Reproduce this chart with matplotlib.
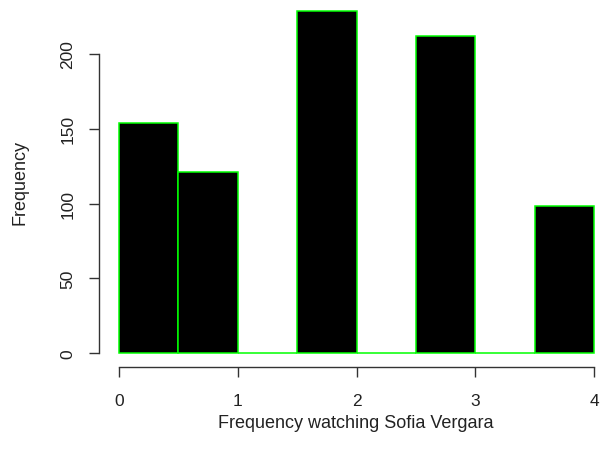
import matplotlib
matplotlib.use('Agg')
import matplotlib.pyplot as plt
import numpy as np

plt.rcParams['font.family'] = ['Liberation Sans', 'DejaVu Sans']

# histogram bins and counts
bin_edges = [0, 0.5, 1, 1.5, 2, 2.5, 3, 3.5, 4]
counts = [154, 121, 0, 229, 0, 212, 0, 98]
x_ticks = [0, 1, 2, 3, 4]
y_ticks = [0, 50, 100, 150, 200]

W, H = 602, 464
fig = plt.figure(figsize=(W / 100, H / 100), dpi=100)

# plot region in pixels (R style, right side cropped)
left, right, top, bottom = 99, 602, 0, 368
ax = fig.add_axes([left / W, 1 - bottom / H, (right - left) / W, (bottom - top) / H])

px_x = (594 - 119) / 4.0
px_y = (354 - 55) / 200.0
ax.set_xlim(-(119 - left) / px_x, 4 + (right - 594) / px_x)
ax.set_ylim(-(bottom - 354) / px_y, (354 - top) / px_y)

lefts = np.array(bin_edges[:-1])
widths = np.diff(bin_edges)
ax.bar(lefts, counts, width=widths, align='edge', color='black',
       edgecolor='#00ff00', linewidth=1.1)

for s in ['top', 'right']:
    ax.spines[s].set_visible(False)
ax.spines['left'].set_bounds(0, 200)
ax.spines['bottom'].set_bounds(0, 4)
for s in ['left', 'bottom']:
    ax.spines[s].set_color('#333333')
    ax.spines[s].set_linewidth(1.0)

ax.set_xticks(x_ticks)
ax.set_yticks(y_ticks)
ax.tick_params(length=7, width=1.0, color='#333333', labelsize=12.5, labelcolor='#222222')
ax.tick_params(axis='x', pad=12)
ax.tick_params(axis='y', pad=10)
plt.setp(ax.get_yticklabels(), rotation=90, va='center')

fig.text(356 / W, 1 - 424 / H, 'Frequency watching Sofia Vergara', ha='center', va='center',
         fontsize=13, color='#222222')
fig.text(20 / W, 1 - 183 / H, 'Frequency', ha='center', va='center', rotation=90,
         fontsize=13, color='#222222')

fig.savefig('out.png', dpi=100)
